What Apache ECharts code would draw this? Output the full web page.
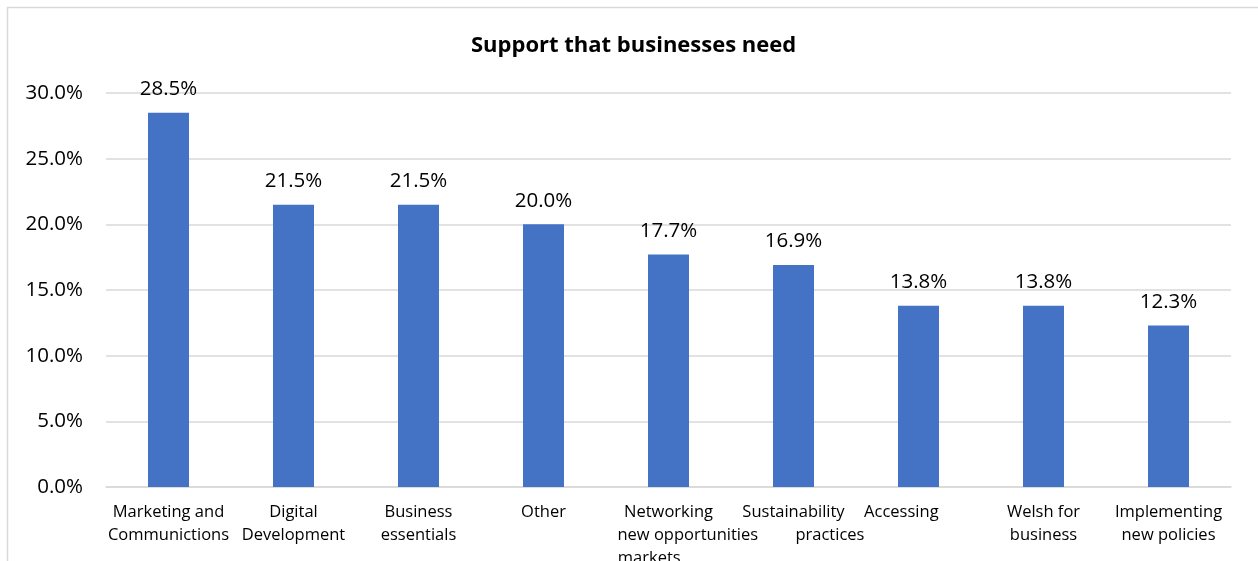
<!DOCTYPE html>
<html>
<head>
<meta charset="utf-8">
<script src="https://cdn.jsdelivr.net/npm/echarts@6/dist/echarts.min.js"></script>
<style>
  html, body { margin: 0; padding: 0; background: #ffffff; }
  #chart { width: 1258px; height: 561px; }
</style>
</head>
<body>
<div id="chart"></div>
<script>
// Category labels (line breaks and spacing reproduce the wrapped axis text)
const categories = [
  'Marketing and\nCommunictions',
  'Digital\nDevelopment',
  'Business\nessentials',
  'Other',
  'Networking\n         new opportunities\nmarkets         ',
  'Sustainability\n                 practices',
  'Accessing        ',
  'Welsh for\nbusiness',
  'Implementing\nnew policies'
];
// Share of businesses needing each kind of support (%)
const values = [28.5, 21.5, 21.5, 20.0, 17.7, 16.9, 13.8, 13.8, 12.3];
// Value axis range
const yMin = 0;
const yMax = 30;
const yStep = 5;

const FONT = '"Open Sans", Lato, sans-serif';
const chart = echarts.init(document.getElementById('chart'), null, { renderer: 'canvas' });

chart.setOption({
  animation: false,
  backgroundColor: '#ffffff',
  title: {
    text: 'Support that businesses need',
    left: 466,
    top: 30,
    textStyle: { fontFamily: FONT, fontSize: 22, fontWeight: 'bold', color: '#000000' }
  },
  graphic: [{
    type: 'rect',
    shape: { x: 7.5, y: 7.5, width: 1300, height: 600 },
    style: { fill: null, stroke: '#d9d9d9', lineWidth: 1.5 },
    silent: true,
    z: -1
  }],
  grid: { left: 106, right: 27, top: 93, bottom: 74, containLabel: false, outerBoundsMode: 'none' },
  xAxis: {
    type: 'category',
    data: categories,
    axisLine: { show: true, lineStyle: { color: '#d9d9d9', width: 1.5 } },
    axisTick: { show: false },
    axisLabel: {
      interval: 0,
      margin: 14,
      fontFamily: FONT,
      fontSize: 16.5,
      color: '#000000',
      lineHeight: 23,
      align: 'center'
    }
  },
  yAxis: {
    type: 'value',
    min: yMin,
    max: yMax,
    interval: yStep,
    axisLine: { show: false },
    axisTick: { show: false },
    splitLine: { lineStyle: { color: '#d9d9d9', width: 1.5 } },
    axisLabel: {
      margin: 23,
      fontFamily: FONT,
      fontSize: 20.5,
      color: '#000000',
      formatter: v => v.toFixed(1) + '%'
    }
  },
  series: [{
    type: 'bar',
    data: values,
    barWidth: 41,
    itemStyle: { color: '#4472c4' },
    label: {
      show: true,
      position: 'top',
      distance: 13,
      fontFamily: FONT,
      fontSize: 20.5,
      color: '#000000',
      formatter: p => p.value.toFixed(1) + '%'
    }
  }]
});
</script>
</body>
</html>
